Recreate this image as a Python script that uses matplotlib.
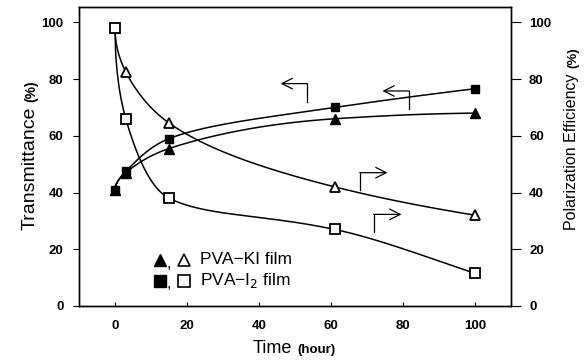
import numpy as np
import matplotlib
matplotlib.use("Agg")
import matplotlib.pyplot as plt

# ---- data ----
time_h = [0, 3, 15, 61, 100]
ki_trans = [41, 47, 55.5, 66, 68]
i2_trans = [41, 47.5, 59, 70, 76.6]
ki_pol = [98, 82.5, 64.5, 42, 32]
i2_pol = [98, 66, 38, 27, 11.5]

x_ticks = [0, 20, 40, 60, 80, 100]
y_ticks = [0, 20, 40, 60, 80, 100]
legend_labels = ["PVA\u2212KI film", "PVA\u2212I$_2$ film"]

# arrows: (start_x, start_y, corner_x, corner_y, head_x, head_y) in data units
arrows = [
    (53.4, 71.9, 53.4, 78.4, 46.0, 78.4),
    (81.7, 69.6, 81.7, 75.8, 74.3, 75.8),
    (68.0, 41.0, 68.0, 47.0, 75.7, 47.0),
    (71.9, 26.0, 71.9, 32.3, 79.6, 32.3),
]


def pchip(x, y, xs):
    x = np.asarray(x, float)
    y = np.asarray(y, float)
    h = np.diff(x)
    d = np.diff(y) / h
    n = len(x)
    m = np.zeros(n)
    for k in range(1, n - 1):
        if d[k - 1] * d[k] <= 0:
            m[k] = 0
        else:
            w1 = 2 * h[k] + h[k - 1]
            w2 = h[k] + 2 * h[k - 1]
            m[k] = (w1 + w2) / (w1 / d[k - 1] + w2 / d[k])

    def endslope(h0, h1, d0, d1):
        s = ((2 * h0 + h1) * d0 - h0 * d1) / (h0 + h1)
        if np.sign(s) != np.sign(d0):
            s = 0
        elif np.sign(d0) != np.sign(d1) and abs(s) > abs(3 * d0):
            s = 3 * d0
        return s

    m[0] = endslope(h[0], h[1], d[0], d[1])
    m[-1] = endslope(h[-1], h[-2], d[-1], d[-2])
    xs = np.asarray(xs, float)
    idx = np.clip(np.searchsorted(x, xs) - 1, 0, n - 2)
    t = (xs - x[idx]) / h[idx]
    h00 = 2 * t**3 - 3 * t**2 + 1
    h10 = t**3 - 2 * t**2 + t
    h01 = -2 * t**3 + 3 * t**2
    h11 = t**3 - t**2
    return (h00 * y[idx] + h10 * h[idx] * m[idx] + h01 * y[idx + 1]
            + h11 * h[idx] * m[idx + 1])


def smooth(x, y, xs):
    # monotone cubic drawn on a square-root time scale
    return pchip(np.sqrt(x), y, np.sqrt(xs))


plt.rcParams['font.family'] = ['Liberation Sans', 'DejaVu Sans']

W, H = 588, 362
fig = plt.figure(figsize=(W / 100, H / 100), dpi=100)
ax = fig.add_axes([79 / W, 1 - 306 / H, (511 - 79) / W, (306 - 7) / H])
ax2 = ax.twinx()

xs = np.linspace(time_h[0], time_h[-1], 600)
lw = 1.1
for ys in (ki_trans, i2_trans, ki_pol, i2_pol):
    ax.plot(xs, smooth(time_h, ys, xs), color='black', lw=lw, zorder=2)

ax.plot(time_h, ki_trans, ls='none', marker='^', ms=7, mfc='black', mec='black', zorder=3)
ax.plot(time_h, i2_trans, ls='none', marker='s', ms=6.3, mfc='black', mec='black', zorder=3)
ax.plot(time_h, ki_pol, ls='none', marker='^', ms=7.3, mfc='white', mec='black', mew=1.3, zorder=4)
ax.plot(time_h, i2_pol, ls='none', marker='s', ms=6.5, mfc='white', mec='black', mew=1.3, zorder=4)

for sx, sy, cx, cy, hx, hy in arrows:
    ax.plot([sx, cx], [sy, cy], color='black', lw=0.9)
    ax.annotate('', xy=(hx, hy), xytext=(cx, cy),
                arrowprops=dict(arrowstyle='->,head_length=0.75,head_width=0.38',
                                color='black', lw=0.9, shrinkA=0, shrinkB=0))

ax.set_xlim(-10, 110)
ax.set_ylim(0, 105.4)
ax2.set_ylim(0, 105.4)
ax.set_xticks(x_ticks)
ax.set_yticks(y_ticks)
ax2.set_yticks(y_ticks)

tick_font = dict(fontsize=9.5, fontweight='bold')
ax.set_xticklabels([str(v) for v in x_ticks], **tick_font)
ax.set_yticklabels([str(v) for v in y_ticks], **tick_font)
ax2.set_yticklabels([str(v) for v in y_ticks], **tick_font)
ax.tick_params(axis='x', direction='in', length=3, width=0.8, pad=10)
ax.tick_params(axis='y', direction='out', length=4, width=0.8, pad=7)
ax.tick_params(axis='y', right=False)
ax2.tick_params(axis='y', direction='out', length=7, width=0.8, pad=6)
ax.tick_params(top=False)
for a in (ax, ax2):
    for s in a.spines.values():
        s.set_linewidth(1.0)

# legend (manual)
leg_rows = [(260, '^', '^', 8.5), (281, 's', 's', 8)]
for (py, mk1, mk2, ms), lab in zip(leg_rows, legend_labels):
    yf = 1 - py / H
    fig.lines.append(plt.Line2D([160 / W], [yf], marker=mk1, ms=ms, mfc='black', mec='black',
                                ls='none', transform=fig.transFigure))
    fig.text(169 / W, yf - 3 / H, ',', fontsize=12, ha='center', va='center')
    fig.lines.append(plt.Line2D([184 / W], [yf], marker=mk2, ms=ms, mfc='white', mec='black',
                                mew=1.2, ls='none', transform=fig.transFigure))
    fig.text(200 / W, yf, lab, fontsize=12.5, ha='left', va='center')

# axis labels composed of two parts
fig.canvas.draw()
r = fig.canvas.get_renderer()


def rot_label(x_px, y_px, big, small, bs, ss):
    t1 = fig.text(x_px / W, 1 - y_px / H, big, fontsize=bs, rotation=90,
                  rotation_mode='anchor', ha='left', va='baseline')
    bb = t1.get_window_extent(r)
    fig.text(x_px / W, (bb.y1 + 5) / H, small, fontsize=ss, fontweight='bold',
             rotation=90, rotation_mode='anchor', ha='left', va='baseline')


rot_label(35, 230, 'Transmittance', '(%)', 14, 10)
rot_label(576, 230, 'Polarization Efficiency', '(%)', 11.5, 9.5)

t1 = fig.text(253 / W, 1 - 353 / H, 'Time', fontsize=13, ha='left', va='baseline')
bb = t1.get_window_extent(r)
fig.text((bb.x1 + 5) / W, 1 - 353 / H, '(hour)', fontsize=9.5, fontweight='bold',
         ha='left', va='baseline')

fig.savefig('out.png', dpi=100)
